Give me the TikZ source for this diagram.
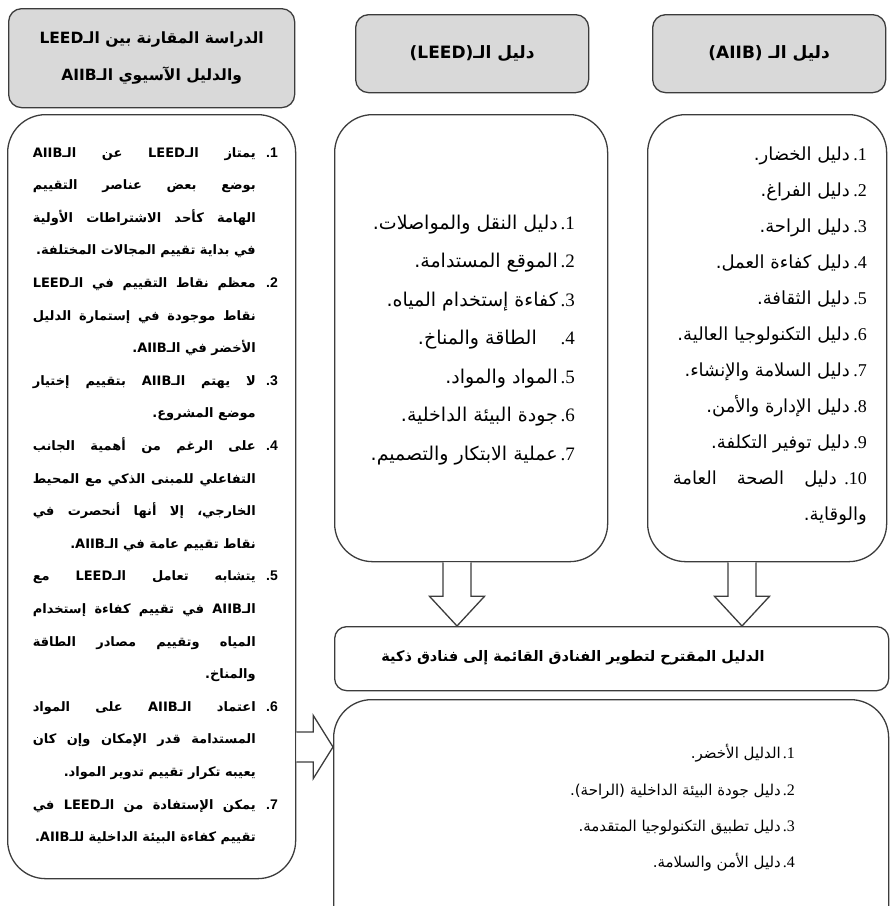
\documentclass[tikz,border=0pt]{standalone}
\usepackage{fontspec}
\setmainfont{DejaVu Sans}
\newfontfamily\arfont[Script=Arabic]{DejaVu Sans}
\newfontfamily\serifnum{Liberation Serif}
\newfontfamily\sansnum{Liberation Sans}
\TeXXeTstate=1
\usetikzlibrary{calc}
\definecolor{hdrfill}{HTML}{D9D9D9}
\definecolor{edge}{HTML}{3C3C3C}
\newcommand{\arj}[2]{\makebox[#1][s]{#2}}
\tikzset{
  hdr/.style={draw=edge, line width=1.3pt, fill=hdrfill, rounded corners=13pt, anchor=north west, inner sep=0pt, align=center, font=\arfont\bfseries\fontsize{17}{37}\selectfont},
  hdrl/.style={hdr, font=\arfont\bfseries\fontsize{15.5}{37}\selectfont},
  cbox/.style={draw=edge, line width=1.3pt, rounded corners=38pt, anchor=north west, inner sep=0pt},
  gbox/.style={draw=edge, line width=1.3pt, rounded corners=12pt, anchor=north west, inner sep=0pt},
  blk/.style={draw=edge, line width=1.3pt, fill=white},
  tb/.style={anchor=east, inner sep=0pt, text height=12pt, text depth=4pt},
  ritm/.style={tb, font=\arfont\fontsize{18}{20}\selectfont},
  rnum/.style={tb, font=\serifnum\fontsize{18}{20}\selectfont},
  mitm/.style={tb, font=\arfont\fontsize{19}{21}\selectfont},
  mnum/.style={tb, font=\serifnum\fontsize{19}{21}\selectfont},
  bitm/.style={tb, font=\arfont\fontsize{15}{18}\selectfont},
  bnum/.style={tb, font=\serifnum\fontsize{16}{18}\selectfont},
  lft/.style={tb, font=\arfont\bfseries\fontsize{13}{15}\selectfont},
  lnum/.style={tb, font=\sansnum\bfseries\fontsize{14}{16}\selectfont},
  ttl/.style={inner sep=0pt, font=\arfont\bfseries\fontsize{14.5}{18}\selectfont},
}
\begin{document}
\begin{tikzpicture}[x=1pt,y=-1pt]
\clip (0,0) rectangle (890,906);
% headers
\node[hdrl, minimum width=286pt, minimum height=99pt] (h1) at (8,8) {\beginR الدراسة المقارنة بين الـLEED\endR\\\beginR والدليل الآسيوي الـAIIB\endR};
\node[hdr, minimum width=233pt, minimum height=78pt] (h2) at (355,14) {\beginR دليل الـ(LEED)\endR};
\node[hdr, minimum width=233pt, minimum height=78pt] (h3) at (652,14) {\beginR دليل الـ (AIIB)\endR};
% content boxes
\node[cbox, minimum width=288pt, minimum height=764pt] (lc) at (7,114) {};
\node[cbox, minimum width=273pt, minimum height=447pt] (mc) at (334,114) {};
\node[cbox, minimum width=239pt, minimum height=447pt] (rc) at (647,114) {};
\node[gbox, minimum width=554pt, minimum height=64pt] (gd) at (334,626) {};
\node[cbox, minimum width=555pt, minimum height=260pt] (bb) at (333,699) {};
% block arrows
\coordinate (x457) at (457,0);
\coordinate (x742) at (742,0);
\coordinate (y747) at (0,747);
\coordinate (a1s) at (mc.south -| x457);
\coordinate (a1t) at (gd.north -| x457);
\coordinate (a2s) at (rc.south -| x742);
\coordinate (a2t) at (gd.north -| x742);
\coordinate (a3s) at (lc.east |- y747);
\coordinate (a3t) at (bb.west |- y747);
\draw[blk] ($(a1s)+(-14,0)$) -- ($(a1s)+(-14,34)$) -- ($(a1s)+(-27.5,34)$) -- (a1t) -- ($(a1s)+(27.5,34)$) -- ($(a1s)+(14,34)$) -- ($(a1s)+(14,0)$);
\draw[blk] ($(a2s)+(-14,0)$) -- ($(a2s)+(-14,34)$) -- ($(a2s)+(-27.5,34)$) -- (a2t) -- ($(a2s)+(27.5,34)$) -- ($(a2s)+(14,34)$) -- ($(a2s)+(14,0)$);
\draw[blk] ($(a3s)+(0,-15)$) -- ($(a3s)+(17,-15)$) -- ($(a3s)+(17,-31.5)$) -- (a3t) -- ($(a3s)+(17,31.5)$) -- ($(a3s)+(17,15)$) -- ($(a3s)+(0,15)$);
% guide title
\node[ttl] (gdt) at (573,658) {\beginR الدليل المقترح لتطوير الفنادق القائمة إلى فنادق ذكية\endR};
% right list (AIIB)
\node[rnum] (rn1) at (867,156) {.1};  \node[ritm] (rt1) at (850,156) {\beginR دليل الخضار.\endR};
\node[rnum] (rn2) at (867,192) {.2};  \node[ritm] (rt2) at (850,192) {\beginR دليل الفراغ.\endR};
\node[rnum] (rn3) at (867,228) {.3};  \node[ritm] (rt3) at (850,228) {\beginR دليل الراحة.\endR};
\node[rnum] (rn4) at (867,264) {.4};  \node[ritm] (rt4) at (850,264) {\beginR دليل كفاءة العمل.\endR};
\node[rnum] (rn5) at (867,300) {.5};  \node[ritm] (rt5) at (850,300) {\beginR دليل الثقافة.\endR};
\node[rnum] (rn6) at (867,336) {.6};  \node[ritm] (rt6) at (850,336) {\beginR دليل التكنولوجيا العالية.\endR};
\node[rnum] (rn7) at (867,372) {.7};  \node[ritm] (rt7) at (850,372) {\beginR دليل السلامة والإنشاء.\endR};
\node[rnum] (rn8) at (867,408) {.8};  \node[ritm] (rt8) at (850,408) {\beginR دليل الإدارة والأمن.\endR};
\node[rnum] (rn9) at (867,444) {.9};  \node[ritm] (rt9) at (850,444) {\beginR دليل توفير التكلفة.\endR};
\node[rnum] (rn10) at (867,480) {.10}; \node[ritm] (rt10) at (837,480) {\arj{164pt}{\beginR دليل الصحة العامة\endR}};
\node[ritm] (rt11) at (867,516) {\beginR والوقاية.\endR};
% middle list (LEED)
\node[mnum] (mn1) at (575,225) {.1}; \node[mitm] (mt1) at (558,225) {\beginR دليل النقل والمواصلات.\endR};
\node[mnum] (mn2) at (575,263.5) {.2}; \node[mitm] (mt2) at (558,263.5) {\beginR الموقع المستدامة.\endR};
\node[mnum] (mn3) at (575,302) {.3}; \node[mitm] (mt3) at (558,302) {\beginR كفاءة إستخدام المياه.\endR};
\node[mnum] (mn4) at (575,340.5) {.4}; \node[mitm] (mt4) at (537,340.5) {\beginR الطاقة والمناخ.\endR};
\node[mnum] (mn5) at (575,379) {.5}; \node[mitm] (mt5) at (558,379) {\beginR المواد والمواد.\endR};
\node[mnum] (mn6) at (575,417.5) {.6}; \node[mitm] (mt6) at (558,417.5) {\beginR جودة البيئة الداخلية.\endR};
\node[mnum] (mn7) at (575,456) {.7}; \node[mitm] (mt7) at (558,456) {\beginR عملية الابتكار والتصميم.\endR};
% bottom list
\node[bnum] (bn1) at (795,754) {.1}; \node[bitm] (bt1) at (781,754) {\beginR الدليل الأخضر.\endR};
\node[bnum] (bn2) at (795,791) {.2}; \node[bitm] (bt2) at (781,791) {\beginR دليل جودة البيئة الداخلية (الراحة).\endR};
\node[bnum] (bn3) at (795,827) {.3}; \node[bitm] (bt3) at (781,827) {\beginR دليل تطبيق التكنولوجيا المتقدمة.\endR};
\node[bnum] (bn4) at (795,863) {.4}; \node[bitm] (bt4) at (781,863) {\beginR دليل الأمن والسلامة.\endR};
% left comparison list
\node[lnum] (ln1) at (278,153.0) {.1};
\node[lft] (l00) at (256,153.0) {\arj{223pt}{\beginR يمتاز الـLEED عن الـAIIB\endR}};
\node[lft] (l01) at (256,185.6) {\arj{223pt}{\beginR بوضع بعض عناصر التقييم\endR}};
\node[lft] (l02) at (256,218.2) {\arj{223pt}{\beginR الهامة كأحد الاشتراطات الأولية\endR}};
\node[lft] (l03) at (256,250.8) {\beginR في بداية تقييم المجالات المختلفة.\endR};
\node[lnum] (ln2) at (278,283.4) {.2};
\node[lft] (l04) at (256,283.4) {\arj{223pt}{\beginR معظم نقاط التقييم في الـLEED\endR}};
\node[lft] (l05) at (256,316.0) {\arj{223pt}{\beginR نقاط موجودة في إستمارة الدليل\endR}};
\node[lft] (l06) at (256,348.6) {\beginR الأخضر في الـAIIB.\endR};
\node[lnum] (ln3) at (278,381.2) {.3};
\node[lft] (l07) at (256,381.2) {\arj{223pt}{\beginR لا يهتم الـAIIB بتقييم إختيار\endR}};
\node[lft] (l08) at (256,413.8) {\beginR موضع المشروع.\endR};
\node[lnum] (ln4) at (278,446.4) {.4};
\node[lft] (l09) at (256,446.4) {\arj{223pt}{\beginR على الرغم من أهمية الجانب\endR}};
\node[lft] (l10) at (256,479.0) {\arj{223pt}{\beginR التفاعلي للمبنى الذكي مع المحيط\endR}};
\node[lft] (l11) at (256,511.6) {\arj{223pt}{\beginR الخارجي، إلا أنها أنحصرت في\endR}};
\node[lft] (l12) at (256,544.2) {\beginR نقاط تقييم عامة في الـAIIB.\endR};
\node[lnum] (ln5) at (278,576.8) {.5};
\node[lft] (l13) at (256,576.8) {\arj{223pt}{\beginR يتشابه تعامل الـLEED مع\endR}};
\node[lft] (l14) at (256,609.4) {\arj{223pt}{\beginR الـAIIB في تقييم كفاءة إستخدام\endR}};
\node[lft] (l15) at (256,642.0) {\arj{223pt}{\beginR المياه وتقييم مصادر الطاقة\endR}};
\node[lft] (l16) at (256,674.6) {\beginR والمناخ.\endR};
\node[lnum] (ln6) at (278,707.2) {.6};
\node[lft] (l17) at (256,707.2) {\arj{223pt}{\beginR اعتماد الـAIIB على المواد\endR}};
\node[lft] (l18) at (256,739.8) {\arj{223pt}{\beginR المستدامة قدر الإمكان وإن كان\endR}};
\node[lft] (l19) at (256,772.4) {\beginR يعيبه تكرار تقييم تدوير المواد.\endR};
\node[lnum] (ln7) at (278,805.0) {.7};
\node[lft] (l20) at (256,805.0) {\arj{223pt}{\beginR يمكن الإستفادة من الـLEED في\endR}};
\node[lft] (l21) at (256,837.6) {\beginR تقييم كفاءة البيئة الداخلية للـAIIB.\endR};
\end{tikzpicture}
\end{document}
